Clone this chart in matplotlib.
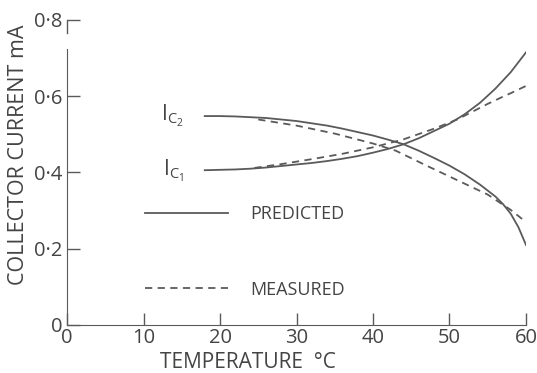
import numpy as np
import matplotlib
matplotlib.use("Agg")
import matplotlib.pyplot as plt

plt.rcParams['font.family'] = ['Open Sans', 'DejaVu Sans']

# temperature (deg C) vs collector current (mA)
t_ic2_pred = [18, 20, 22, 24, 26, 28, 30, 32, 34, 36, 38, 40, 42, 44, 46, 48, 50, 52, 54, 56, 57, 58, 59, 60]
ic2_pred = [0.548, 0.548, 0.547, 0.545, 0.543, 0.539, 0.535, 0.529, 0.523, 0.515, 0.506, 0.497,
            0.486, 0.474, 0.457, 0.438, 0.418, 0.395, 0.368, 0.337, 0.317, 0.292, 0.257, 0.210]

t_ic2_meas = [25, 30, 35, 40, 43, 47, 51, 55, 58, 60]
ic2_meas = [0.539, 0.523, 0.502, 0.476, 0.457, 0.418, 0.380, 0.342, 0.302, 0.270]

t_ic1_pred = [18, 20, 22, 24, 26, 28, 30, 32, 34, 36, 38, 40, 42, 44, 46, 48, 50, 52, 54, 56, 58, 60]
ic1_pred = [0.406, 0.407, 0.408, 0.410, 0.413, 0.417, 0.421, 0.425, 0.430, 0.436, 0.443, 0.452,
            0.462, 0.474, 0.490, 0.509, 0.528, 0.553, 0.583, 0.620, 0.663, 0.715]

t_ic1_meas = [24.5, 28, 32, 36, 40, 44, 48, 51, 55, 57, 58, 60]
ic1_meas = [0.412, 0.422, 0.435, 0.449, 0.466, 0.487, 0.515, 0.539, 0.580, 0.599, 0.608, 0.627]

x_ticks = [0, 10, 20, 30, 40, 50, 60]
y_ticks = [0, 0.2, 0.4, 0.6, 0.8]
y_labels = ['0', '0\u00b72', '0\u00b74', '0\u00b76', '0\u00b78']

ink = '#444444'
line_col = '#5a5a5a'

fig = plt.figure(figsize=(5.37, 3.73), dpi=100)
ax = fig.add_axes([0.1248, 0.1287, 0.8547, 0.8177])

solid, = ax.plot(t_ic2_pred, ic2_pred, color=line_col, lw=1.3, label='PREDICTED')
ax.plot(t_ic1_pred, ic1_pred, color=line_col, lw=1.3)
dashed, = ax.plot(t_ic2_meas, ic2_meas, color=line_col, lw=1.3, ls=(0, (4, 3)), label='MEASURED')
ax.plot(t_ic1_meas, ic1_meas, color=line_col, lw=1.3, ls=(0, (4, 3)))

ax.set_xlim(0, 60)
ax.set_ylim(0, 0.8)
for s in ['top', 'right']:
    ax.spines[s].set_visible(False)
ax.spines['left'].set_bounds(0, 0.725)
ax.spines['left'].set_color(line_col)
ax.spines['bottom'].set_color(line_col)
# little hook on the 0.8 tick
ax.plot([0, 0], [0.765, 0.8], color=line_col, lw=1, clip_on=False)

ax.set_xticks(x_ticks)
ax.set_yticks(y_ticks)
ax.set_yticklabels(y_labels)
ax.tick_params(axis='both', direction='in', length=9, width=1, color=line_col,
               labelsize=14.5, labelcolor=ink)
ax.tick_params(axis='x', pad=2)
ax.tick_params(axis='y', pad=3)

ax.text(15.3, 0.548, r'$\mathregular{I_{C_2}}$', fontsize=15, color=ink, va='center', ha='right')
ax.text(15.3, 0.403, r'$\mathregular{I_{C_1}}$', fontsize=15, color=ink, va='center', ha='right')

ax.legend(handles=[solid, dashed], loc='upper left', bbox_to_anchor=(0.17, 0.394),
          frameon=False, fontsize=13, handlelength=4.6, handletextpad=1.2,
          labelspacing=3.2, labelcolor=ink, borderpad=0, borderaxespad=0)

fig.text(0.462, 0.029, 'TEMPERATURE  \u00b0C', fontsize=15, color=ink, ha='center', va='center')
fig.text(0.034, 0.584, 'COLLECTOR CURRENT mA', fontsize=15.5, color=ink, rotation=90,
         ha='center', va='center')

fig.savefig('out.png', dpi=100)
